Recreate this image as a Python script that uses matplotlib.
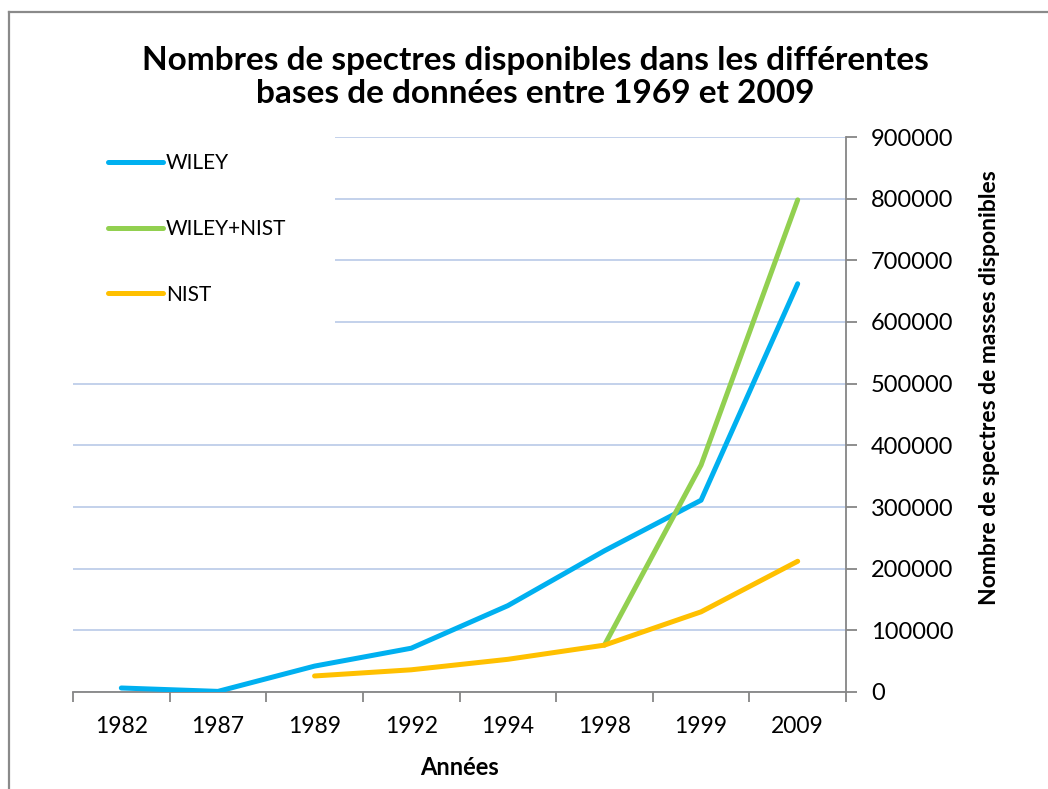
import matplotlib

matplotlib.use("Agg")
import matplotlib.pyplot as plt
from matplotlib.lines import Line2D
from matplotlib.patches import Rectangle

# Categories (years) on the x axis
years = ["1982", "1987", "1989", "1992", "1994", "1998", "1999", "2009"]

# Number of spectra per database (None = no value)
wiley = [6500, 1000, 42000, 71000, 140000, 229000, 311000, 662000]
wiley_nist = [None, None, None, None, None, 76000, 368000, 798000]
nist = [None, None, 26000, 36000, 53000, 76000, 130000, 212000]

yticks = list(range(0, 900001, 100000))

W, H = 1048, 789
fig = plt.figure(figsize=(W / 100, H / 100), dpi=100)
ax = fig.add_axes([73 / W, 1 - 692 / H, (846 - 73) / W, (692 - 137) / H])

FONT = "Lato"


def series(vals):
    xs = [i for i, v in enumerate(vals) if v is not None]
    ys = [v for v in vals if v is not None]
    return xs, ys


for vals, color, label in (
    (wiley, "#00b0f0", "WILEY"),
    (wiley_nist, "#92d050", "WILEY+NIST"),
    (nist, "#ffc000", "NIST"),
):
    xs, ys = series(vals)
    ax.plot(xs, ys, color=color, lw=3.6, label=label, solid_capstyle="round", zorder=3)

ax.set_xlim(-0.5, len(years) - 0.5)
ax.set_ylim(0, 900000)

ax.set_xticks(range(len(years)))
ax.set_xticklabels(years, fontsize=16.5, fontfamily=FONT)
ax.set_xticks([i - 0.5 for i in range(len(years) + 1)], minor=True)
ax.tick_params(axis="x", which="major", length=0, pad=17)
ax.tick_params(axis="x", which="minor", length=7, width=1.3, color="#868686")

ax.yaxis.tick_right()
ax.yaxis.set_label_position("right")
ax.set_yticks(yticks)
ax.set_yticklabels([str(v) for v in yticks], fontsize=17, fontfamily=FONT)
ax.tick_params(axis="y", length=8, width=1.3, color="#868686", pad=10)

ax.grid(axis="y", color="#b3c5e6", lw=1.1, zorder=0)
ax.set_axisbelow(True)

for side in ("left", "top"):
    ax.spines[side].set_visible(False)
for side in ("bottom", "right"):
    ax.spines[side].set_color("#868686")
    ax.spines[side].set_linewidth(1.3)

# white legend area covering the grid lines
ax.add_patch(Rectangle((0, 0.63), 0.339, 0.37, transform=ax.transAxes,
                       facecolor="white", edgecolor="none", zorder=1.5))
leg = ax.legend(loc="upper left", bbox_to_anchor=(0.035, 0.986), frameon=False,
                prop={"family": FONT, "size": 15}, handlelength=2.6,
                handletextpad=0.15, labelspacing=2.2, borderaxespad=0)
for h in leg.get_lines():
    h.set_linewidth(3.6)

ax.set_xlabel("Années", fontsize=17, fontweight="bold", fontfamily=FONT, labelpad=14)
ax.set_ylabel("Nombre de spectres de masses disponibles", fontsize=16.5,
              fontweight="bold", fontfamily=FONT)
ax.yaxis.set_label_coords(1.172, 0.548)

fig.text(535 / W, 1 - 77 / H,
         "Nombres de spectres disponibles dans les différentes\n"
         "bases de données entre 1969 et 2009",
         ha="center", va="center", fontsize=24, fontweight="bold",
         fontfamily=FONT, linespacing=1.2)

# outer chart frame
fig.add_artist(Line2D([8.5 / W, 8.5 / W], [0, 1 - 11.5 / H], color="#8a8a8a", lw=1.6))
fig.add_artist(Line2D([8.5 / W, 1], [1 - 11.5 / H, 1 - 11.5 / H], color="#8a8a8a", lw=1.6))

fig.savefig("out.png", dpi=100, facecolor="white")
